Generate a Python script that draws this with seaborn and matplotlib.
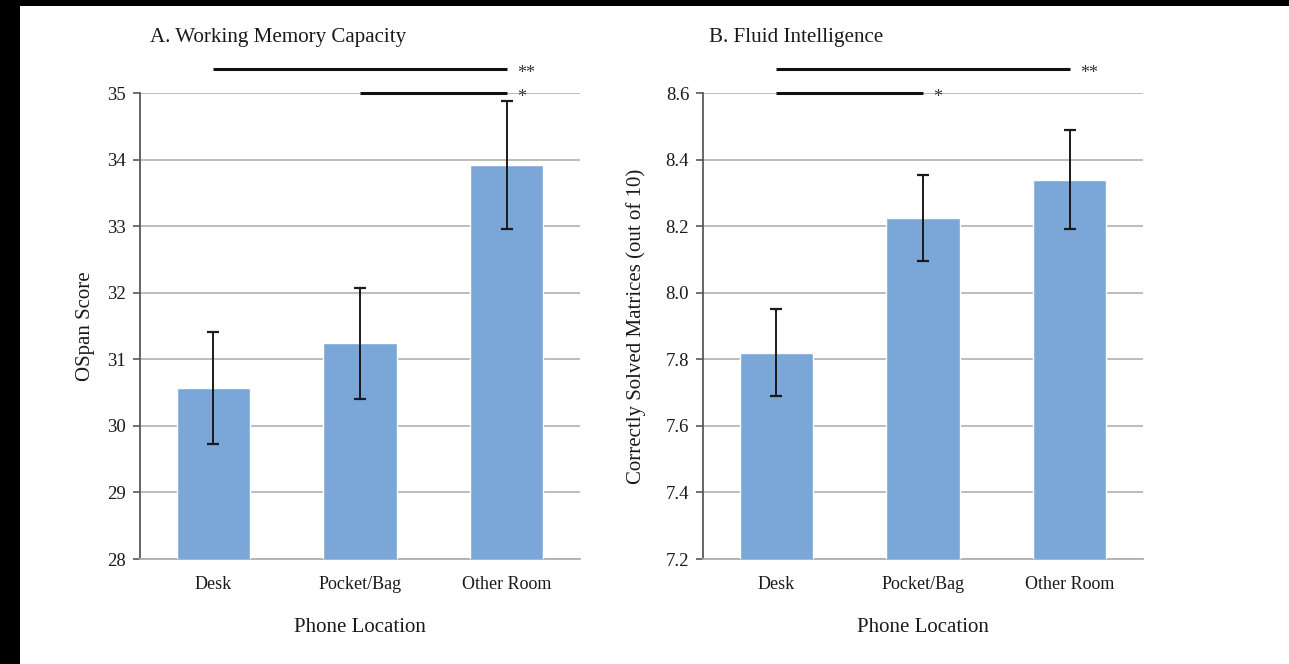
import matplotlib
matplotlib.use("Agg")
import matplotlib.pyplot as plt
import seaborn as sns
import pandas as pd
from matplotlib.patches import Rectangle

# ---- data ----
locations = ["Desk", "Pocket/Bag", "Other Room"]
ospan_means = [30.57, 31.24, 33.92]
ospan_se = [0.84, 0.83, 0.96]
matrices_means = [7.82, 8.225, 8.34]
matrices_se = [0.13, 0.13, 0.15]

ospan_ticks = [28, 29, 30, 31, 32, 33, 34, 35]
matrices_ticks = [7.2, 7.4, 7.6, 7.8, 8.0, 8.2, 8.4, 8.6]
matrices_ticklabels = ["7.2", "7.4", "7.6", "7.8", "8.0", "8.2", "8.4", "8.6"]

# significance brackets: (start index, end index, label)
ospan_sig = [(0, 2, "**"), (1, 2, "*")]
matrices_sig = [(0, 2, "**"), (0, 1, "*")]

sns.set_theme(style="white")
plt.rcParams["font.family"] = ["Liberation Serif", "DejaVu Serif"]

BAR = "#7ba7d8"
GRID = "#b0b0b0"
TXT = "#1a1a1a"

fig = plt.figure(figsize=(12.89, 6.64), dpi=100)
fig.patch.set_facecolor("white")

ax1 = fig.add_axes([0.1086, 0.1581, 0.3413, 0.7018])
ax2 = fig.add_axes([0.5454, 0.1581, 0.3413, 0.7018])


def draw(ax, means, se, ticks, ticklabels, ylabel, ylab_x, title, title_x,
         sig, sig_step):
    df = pd.DataFrame({"loc": locations, "val": means})
    sns.barplot(data=df, x="loc", y="val", order=locations, color=BAR,
                saturation=1, width=0.5, errorbar=None, ax=ax, zorder=3)
    ax.errorbar(range(len(locations)), means, yerr=se, fmt="none",
                ecolor="#1a1a1a", elinewidth=1.4, capsize=4, capthick=1.6,
                zorder=4)
    lo, hi = ticks[0], ticks[-1]
    ax.set_ylim(lo, hi)
    ax.set_xlim(-0.5, 2.5)
    ax.set_yticks(ticks)
    ax.set_yticklabels(ticklabels, fontsize=13.5)
    ax.tick_params(axis="y", which="both", left=True, length=5, width=1.2,
                   color="#595959", pad=5, labelcolor=TXT)
    ax.tick_params(axis="x", bottom=False, labelsize=13, pad=6,
                   labelcolor=TXT)
    ax.yaxis.grid(True, color=GRID, linewidth=1.2, zorder=0)
    ax.xaxis.grid(False)
    ax.set_axisbelow(True)
    for s in ["top", "right"]:
        ax.spines[s].set_visible(False)
    ax.spines["left"].set_color("#595959")
    ax.spines["left"].set_linewidth(1.3)
    ax.spines["bottom"].set_color(GRID)
    ax.spines["bottom"].set_linewidth(1.3)
    ax.set_xlabel("Phone Location", fontsize=15, labelpad=18, color=TXT)
    ax.set_ylabel(ylabel, fontsize=15, color=TXT)
    ax.yaxis.set_label_coords(ylab_x, 0.5)
    ax.text(title_x, 1.109, title, transform=ax.transAxes, fontsize=15.1,
            ha="left", va="baseline", color=TXT)
    for i, (a, b, lab) in enumerate(sig):
        y = hi + sig_step * (len(sig) - 1 - i)
        ax.plot([a, b], [y, y], color="#111111", lw=2.2, clip_on=False,
                solid_capstyle="butt", zorder=5)
        ax.annotate(lab, xy=(b + 0.07, y), xytext=(0, -3),
                    textcoords="offset points", fontsize=13, ha="left",
                    va="center", color="#333333", annotation_clip=False)


draw(ax1, ospan_means, ospan_se, ospan_ticks, [str(t) for t in ospan_ticks],
     "OSpan Score", -0.102, "A. Working Memory Capacity", 0.023,
     ospan_sig, 0.36)
draw(ax2, matrices_means, matrices_se, matrices_ticks, matrices_ticklabels,
     "Correctly Solved Matrices (out of 10)", -0.13, "B. Fluid Intelligence",
     0.014, matrices_sig, 0.072)

# black scan borders (left and top)
fig.patches.append(Rectangle((0, 0), 20 / 1289, 1, transform=fig.transFigure,
                             facecolor="black", edgecolor="none", zorder=10))
fig.patches.append(Rectangle((0, 1 - 6 / 664), 1, 6 / 664,
                             transform=fig.transFigure, facecolor="black",
                             edgecolor="none", zorder=10))

fig.savefig("out.png", dpi=100, facecolor="white")
